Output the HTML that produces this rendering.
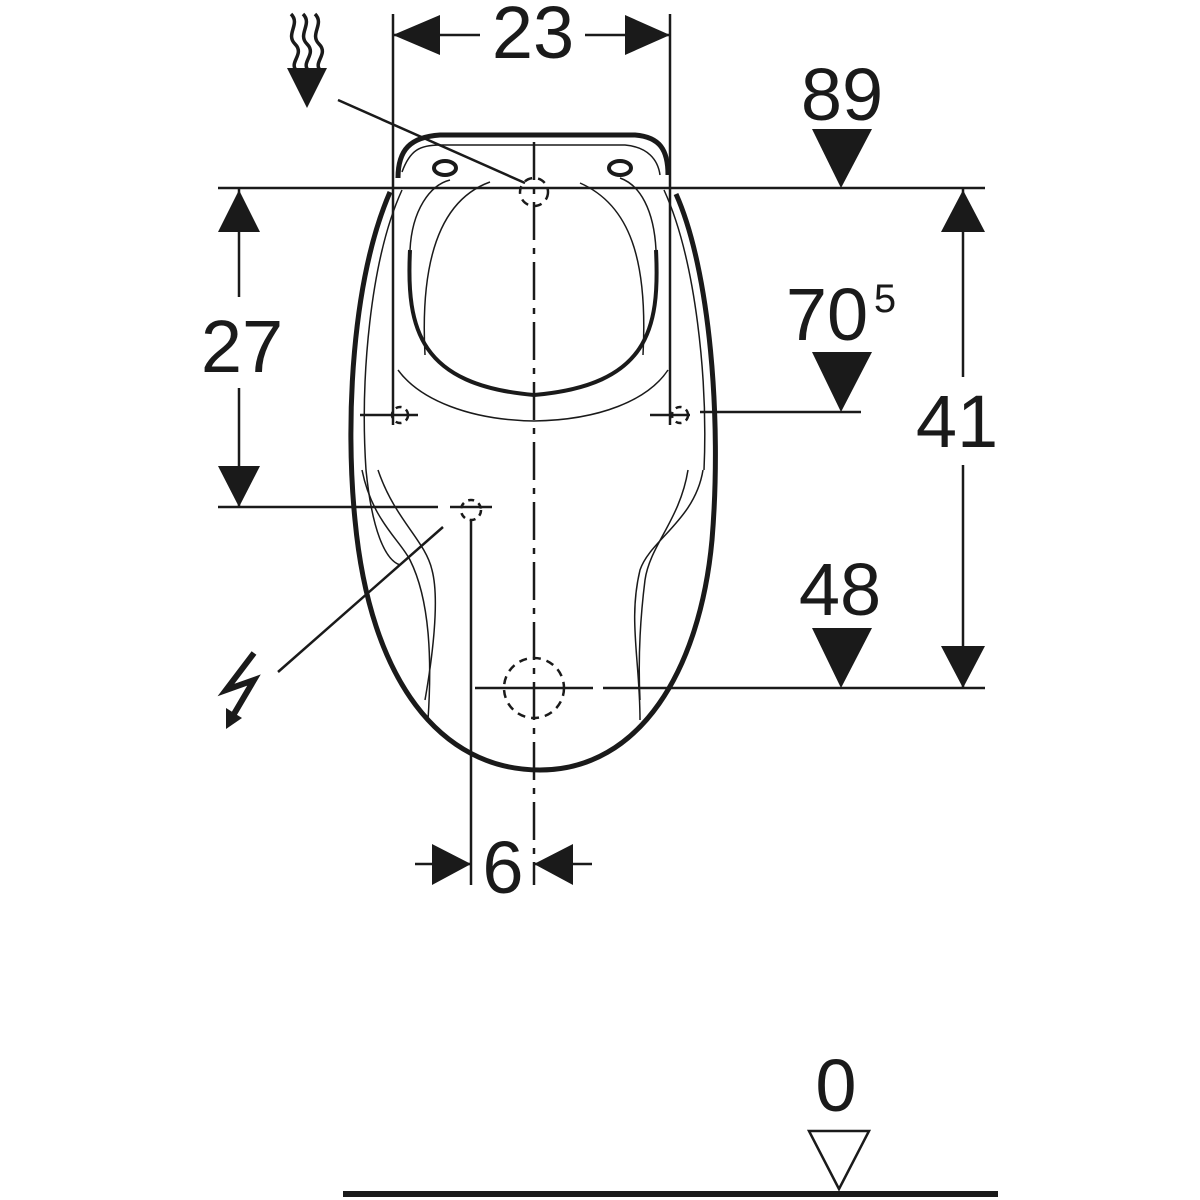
<!DOCTYPE html>
<html><head><meta charset="utf-8"><style>
html,body{margin:0;padding:0;background:#fff;}
svg{display:block;}
text{font-family:"Liberation Sans",sans-serif;fill:#1a1a1a;}
</style></head><body>
<svg width="1200" height="1200" viewBox="0 0 1200 1200" xmlns="http://www.w3.org/2000/svg">
<g stroke="#1a1a1a" fill="none" stroke-width="2.5">
<line x1="393" y1="14" x2="393" y2="425"/>
<line x1="670" y1="14" x2="670" y2="425"/>
<line x1="218" y1="188" x2="985" y2="188"/>
<line x1="700" y1="412" x2="861" y2="412"/>
<line x1="218" y1="507" x2="438" y2="507"/>
<line x1="475" y1="688" x2="593" y2="688"/>
<line x1="603" y1="688" x2="985" y2="688"/>
<line x1="534" y1="142" x2="534" y2="885" stroke-dasharray="38,8,6,8"/>
<line x1="471" y1="520" x2="471" y2="885"/>
<line x1="393" y1="35" x2="480" y2="35"/>
<line x1="585" y1="35" x2="670" y2="35"/>
<line x1="239" y1="188" x2="239" y2="297"/>
<line x1="239" y1="388" x2="239" y2="507"/>
<line x1="963" y1="188" x2="963" y2="377"/>
<line x1="963" y1="465" x2="963" y2="688"/>
<line x1="415" y1="864" x2="471" y2="864"/>
<line x1="534" y1="864" x2="592" y2="864"/>
<line x1="338" y1="100" x2="525" y2="183"/>
<line x1="443" y1="527" x2="278" y2="672"/>
<path d="M390,192 C352,280 345,420 355,520 C370,680 440,770 540,770 C640,770 700,670 712,540 C722,420 710,270 676,194" stroke-width="5"/>
<path d="M398,178 C398,150 410,137 440,135 L635,135 C660,137 668,150 668,175" stroke-width="5"/>
<path d="M402,190 C370,260 360,380 366,470 C372,530 385,560 400,565" stroke-width="1.5"/>
<path d="M664,190 C696,260 708,380 704,470" stroke-width="1.5"/>
<path d="M402,172 C410,150 420,145 440,145 L625,145 C648,147 658,160 660,175" stroke-width="1.5"/>
<path d="M410,250 C406,330 420,385 534,395 C648,385 660,330 656,250" stroke-width="4"/>
<path d="M410,250 C412,210 430,185 450,180 M656,250 C654,210 640,185 620,178" stroke-width="1.5"/>
<path d="M425,355 C420,260 440,200 490,182 M643,355 C648,260 630,205 580,183" stroke-width="1.5"/>
<path d="M398,370 C420,400 470,420 534,421 C600,420 648,400 668,370" stroke-width="1.5"/>
<path d="M362,470 C372,520 400,540 410,560 C430,600 432,660 428,720" stroke-width="1.5"/>
<path d="M378,470 C395,520 425,540 432,570 C440,600 432,660 425,700" stroke-width="1.5"/>
<path d="M703,470 C695,520 650,540 640,570 C628,620 640,660 640,720" stroke-width="1.5"/>
<path d="M688,470 C680,520 650,545 645,580 C640,620 638,660 640,700" stroke-width="1.5"/>
<ellipse cx="445" cy="168" rx="11" ry="7" stroke-width="4"/>
<ellipse cx="620" cy="168" rx="11" ry="7" stroke-width="4"/>
<circle cx="534" cy="688" r="30" stroke-dasharray="8,6"/>
<circle cx="534" cy="192" r="14" stroke-dasharray="8,6"/>
<circle cx="471" cy="510" r="10" stroke-dasharray="6,5"/>
<circle cx="400" cy="415" r="8" stroke-dasharray="6,5"/>
<circle cx="680" cy="415" r="8" stroke-dasharray="6,5"/>
<line x1="360" y1="415" x2="418" y2="415"/>
<line x1="650" y1="415" x2="690" y2="415"/>
<line x1="450" y1="507" x2="492" y2="507"/>
<path d="M291,14 C301,24 285,34 295,44 C305,54 289,62 296,70 M303,14 C313,24 297,34 307,44 C317,54 301,62 308,70 M315,14 C325,24 309,34 319,44 C329,54 313,62 320,70" stroke-width="3.5"/>
<line x1="343" y1="1194" x2="998" y2="1194" stroke-width="6"/>
<polygon points="809,1131 869,1131 839,1189" stroke-width="2.5"/>
<path d="M254,653 L226,690 L254,680 L234,714" stroke-width="6" stroke-linejoin="miter"/>
</g>
<g fill="#1a1a1a" stroke="none">
<polygon points="393,35 440,15 440,55"/>
<polygon points="670,35 625,15 625,55"/>
<polygon points="239,190 218,232 260,232"/>
<polygon points="239,507 218,466 260,466"/>
<polygon points="963,190 941,232 985,232"/>
<polygon points="963,688 941,646 985,646"/>
<polygon points="812,129 872,129 841,188"/>
<polygon points="812,352 872,352 841,412"/>
<polygon points="812,628 872,628 841,688"/>
<polygon points="287,68 327,68 307,108"/>
<polygon points="471,864 432,844 432,885"/>
<polygon points="534,864 573,844 573,885"/>
<polygon points="226,729 226,708 242,718"/>
</g>
<g font-size="74" text-anchor="middle">
<text x="533" y="58">23</text>
<text x="842" y="120">89</text>
<text x="242" y="372">27</text>
<text x="827" y="340">70</text>
<text x="885" y="312" font-size="40">5</text>
<text x="957" y="447">41</text>
<text x="840" y="615">48</text>
<text x="503" y="893">6</text>
<text x="836" y="1111">0</text>
</g>
</svg>
</body></html>
